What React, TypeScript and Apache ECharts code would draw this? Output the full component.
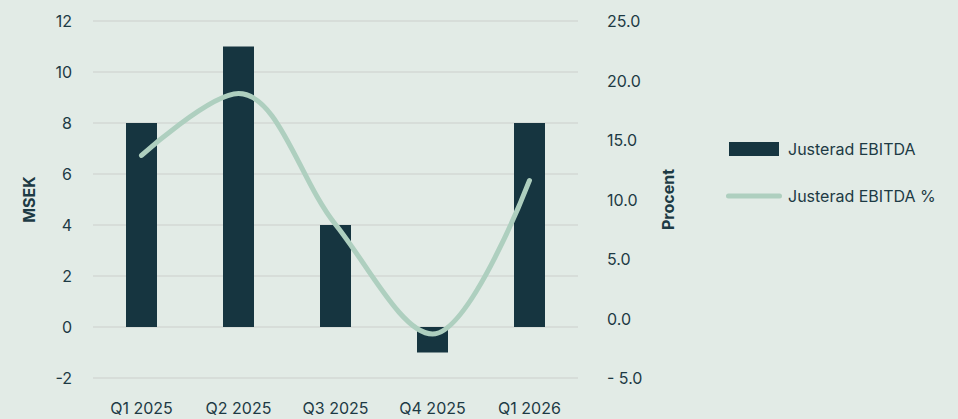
import React, { useEffect, useRef } from "react";
import * as echarts from "echarts";

const categories = ["Q1 2025", "Q2 2025", "Q3 2025", "Q4 2025", "Q1 2026"];
const ebitda = [8, 11, 4, -1, 8];
const ebitdaPct = [13.7, 18.9, 7.9, -1.3, 11.6];
const leftTicks = { min: -2, max: 12, interval: 2 };
const rightTicks = { min: -5, max: 25, interval: 5 };

const textColor = "#1d3a44";
const font = "Inter, 'Noto Sans', sans-serif";
const lineIcon =
  "path://M2.5,0 L53.5,0 A2.5,2.5 0 0 1 53.5,5 L2.5,5 A2.5,2.5 0 0 1 2.5,0 Z";

export default function App() {
  const ref = useRef<HTMLDivElement>(null);
  useEffect(() => {
    const chart = echarts.init(ref.current!, null, { renderer: "svg" });
    chart.setOption({
      animation: false,
      backgroundColor: "#e2ebe6",
      textStyle: { fontFamily: font },
      grid: { left: 93, right: 380, top: 21, bottom: 41 },
      legend: {
        orient: "vertical",
        left: 721,
        top: 136,
        itemWidth: 56,
        itemHeight: 14,
        itemGap: 31,
        textStyle: { color: textColor, fontSize: 16, fontFamily: font, padding: [0, 0, 0, 1] },
        data: [
          { name: "Justerad EBITDA", icon: "path://M3,0 L53,0 L53,14 L3,14 Z" },
          { name: "Justerad EBITDA %", icon: lineIcon, itemStyle: { color: "#aecfbf" } },
        ],
      },
      xAxis: {
        type: "category",
        data: categories,
        axisTick: { show: false },
        axisLine: { show: false },
        axisLabel: { color: textColor, fontSize: 16, margin: 22 },
      },
      yAxis: [
        {
          type: "value",
          ...leftTicks,
          name: "MSEK",
          nameLocation: "middle",
          nameGap: 56,
          nameTextStyle: { color: textColor, fontSize: 16, fontWeight: "bold" },
          axisLabel: { color: textColor, fontSize: 16, margin: 21 },
          splitLine: { lineStyle: { color: "#d3d8d5", width: 1.5 } },
          axisLine: { show: false },
          axisTick: { show: false },
        },
        {
          type: "value",
          ...rightTicks,
          name: "Procent",
          nameLocation: "middle",
          nameGap: 82,
          nameTextStyle: { color: textColor, fontSize: 16, fontWeight: "bold" },
          axisLabel: {
            color: textColor,
            fontSize: 16,
            margin: 29,
            formatter: (v: number) => (v < 0 ? "- " + Math.abs(v).toFixed(1) : v.toFixed(1)),
          },
          splitLine: { show: false },
          axisLine: { show: false },
          axisTick: { show: false },
        },
      ],
      series: [
        {
          name: "Justerad EBITDA",
          type: "bar",
          data: ebitda,
          barWidth: 31,
          itemStyle: { color: "#163540" },
        },
        {
          name: "Justerad EBITDA %",
          type: "line",
          yAxisIndex: 1,
          data: ebitdaPct,
          smooth: 0.35,
          symbol: "none",
          lineStyle: { color: "#aecfbf", width: 5, cap: "round" },
          itemStyle: { color: "#aecfbf" },
        },
      ],
    });
    return () => chart.dispose();
  }, []);
  return <div ref={ref} style={{ width: 958, height: 419, position: "absolute", left: 0, top: 0 }} />;
}
